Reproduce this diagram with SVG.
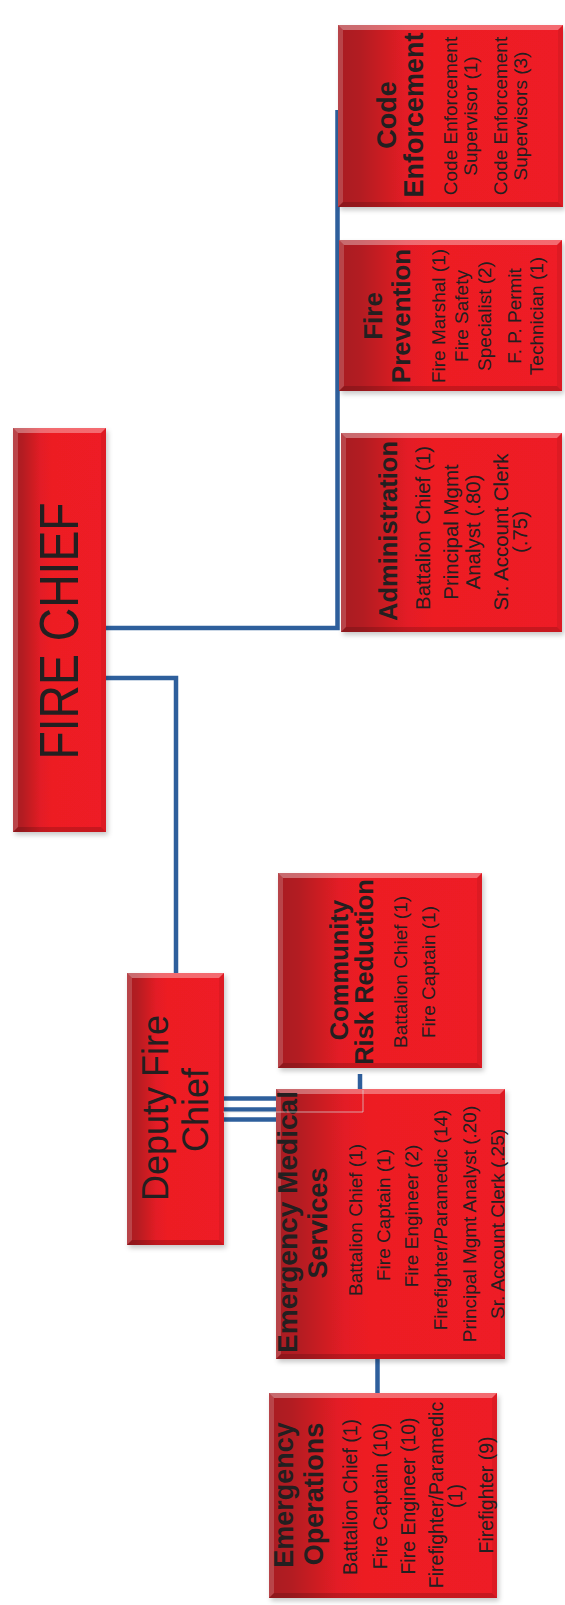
<svg xmlns="http://www.w3.org/2000/svg" width="565" height="1605" viewBox="0 0 565 1605">
  <defs>
    <linearGradient id="redFill" x1="0" y1="0" x2="1" y2="0">
      <stop offset="0" stop-color="#A81C21"/>
      <stop offset="0.1" stop-color="#B31C22"/>
      <stop offset="0.3" stop-color="#E31D25"/>
      <stop offset="0.42" stop-color="#ED1C24"/>
      <stop offset="1" stop-color="#EE1D25"/>
    </linearGradient>
    <filter id="boxShadow" x="-10%" y="-10%" width="125%" height="125%">
      <feDropShadow dx="2" dy="3" stdDeviation="2.5" flood-color="#000" flood-opacity="0.22"/>
    </filter>
    <style>
      .box { fill: url(#redFill); filter: url(#boxShadow); }
      .bv-top { fill: #fff; fill-opacity: 0.35; }
      .bv-left { fill: #fff; fill-opacity: 0.18; }
      .bv-bottom { fill: #000; fill-opacity: 0.16; }
      .bv-right { fill: #000; fill-opacity: 0.07; }
      .link { fill: none; stroke: #2E5F9C; stroke-width: 4.5; }
      .ghost { fill: none; stroke: #D8D8D8; stroke-width: 1; stroke-opacity: 0.7; }
      text { font-family: "Liberation Sans", Arial, sans-serif; fill: #231F20; text-anchor: middle; }
      .fc { font-size: 56px; }
      .dep { font-size: 36px; }
      .ttl { font-weight: bold; font-size: 26px; }
      .body { font-size: 19px; }
    </style>
  </defs>

  <g id="connectors">
    <path class="link" d="M106,628 H337.5 V110"/>
    <path class="link" d="M106,678 H176 V973"/>
    <path class="link" d="M224,1098.5 H276"/>
    <path class="link" d="M224,1109.5 H276"/>
    <path class="link" d="M224,1119.5 H276"/>
    <path class="link" d="M360,1074 V1089"/>
    <path class="link" d="M377.5,1359 V1393"/>
  </g>

  <g id="fire-chief">
    <rect class="box" x="13" y="428" width="93" height="404"/>
    <path class="bv-top" d="M13,428 h93 l-5,5 h-83 z"/>
    <path class="bv-left" d="M13,428 l5,5 v394 l-5,5 z"/>
    <path class="bv-bottom" d="M13,832 l5,-5 h83 l5,5 z"/>
    <path class="bv-right" d="M106,428 v404 l-5,-5 v-394 z"/>
    <text class="fc" transform="translate(78,631) rotate(-90)" textLength="257" lengthAdjust="spacingAndGlyphs">FIRE CHIEF</text>
  </g>

  <g id="code-enforcement">
    <rect class="box" x="338" y="25" width="225" height="182"/>
    <path class="bv-top" d="M338,25 h225 l-5,5 h-215 z"/>
    <path class="bv-left" d="M338,25 l5,5 v172 l-5,5 z"/>
    <path class="bv-bottom" d="M338,207 l5,-5 h215 l5,5 z"/>
    <path class="bv-right" d="M563,25 v182 l-5,-5 v-172 z"/>
    <text class="ttl" style="font-size:27px" transform="translate(396,115) rotate(-90)">Code</text>
    <text class="ttl" style="font-size:27px" transform="translate(423,115) rotate(-90)">Enforcement</text>
    <text class="body" transform="translate(457,116) rotate(-90)">Code Enforcement</text>
    <text class="body" transform="translate(477,116) rotate(-90)">Supervisor (1)</text>
    <text class="body" transform="translate(507,116) rotate(-90)">Code Enforcement</text>
    <text class="body" transform="translate(527,116) rotate(-90)">Supervisors (3)</text>
  </g>

  <g id="fire-prevention">
    <rect class="box" x="339" y="240" width="223" height="151"/>
    <path class="bv-top" d="M339,240 h223 l-5,5 h-213 z"/>
    <path class="bv-left" d="M339,240 l5,5 v141 l-5,5 z"/>
    <path class="bv-bottom" d="M339,391 l5,-5 h213 l5,5 z"/>
    <path class="bv-right" d="M562,240 v151 l-5,-5 v-141 z"/>
    <text class="ttl" transform="translate(382,316) rotate(-90)">Fire</text>
    <text class="ttl" transform="translate(410,316) rotate(-90)">Prevention</text>
    <text class="body" transform="translate(445,316) rotate(-90)">Fire Marshal (1)</text>
    <text class="body" transform="translate(468,316) rotate(-90)">Fire Safety</text>
    <text class="body" transform="translate(491,316) rotate(-90)">Specialist (2)</text>
    <text class="body" transform="translate(521,316) rotate(-90)">F. P. Permit</text>
    <text class="body" transform="translate(543,316) rotate(-90)">Technician (1)</text>
  </g>

  <g id="administration">
    <rect class="box" x="341" y="433" width="221" height="199"/>
    <path class="bv-top" d="M341,433 h221 l-5,5 h-211 z"/>
    <path class="bv-left" d="M341,433 l5,5 v189 l-5,5 z"/>
    <path class="bv-bottom" d="M341,632 l5,-5 h211 l5,5 z"/>
    <path class="bv-right" d="M562,433 v199 l-5,-5 v-189 z"/>
    <text class="ttl" style="font-size:25.5px" transform="translate(397,531) rotate(-90)">Administration</text>
    <text class="body" style="font-size:20.5px" transform="translate(430,528) rotate(-90)">Battalion Chief (1)</text>
    <text class="body" style="font-size:20.5px" transform="translate(458,532) rotate(-90)">Principal Mgmt</text>
    <text class="body" style="font-size:20.5px" transform="translate(480,532) rotate(-90)">Analyst (.80)</text>
    <text class="body" style="font-size:20.5px" transform="translate(508,532) rotate(-90)">Sr. Account Clerk</text>
    <text class="body" style="font-size:20.5px" transform="translate(527,532) rotate(-90)">(.75)</text>
  </g>

  <g id="deputy-fire-chief">
    <rect class="box" x="127" y="973" width="97" height="272"/>
    <path class="bv-top" d="M127,973 h97 l-5,5 h-87 z"/>
    <path class="bv-left" d="M127,973 l5,5 v262 l-5,5 z"/>
    <path class="bv-bottom" d="M127,1245 l5,-5 h87 l5,5 z"/>
    <path class="bv-right" d="M224,973 v272 l-5,-5 v-262 z"/>
    <text class="dep" transform="translate(168,1108) rotate(-90)">Deputy Fire</text>
    <text class="dep" transform="translate(208,1110) rotate(-90)">Chief</text>
  </g>

  <g id="community-risk-reduction">
    <rect class="box" x="278" y="873" width="204" height="195"/>
    <path class="bv-top" d="M278,873 h204 l-5,5 h-194 z"/>
    <path class="bv-left" d="M278,873 l5,5 v185 l-5,5 z"/>
    <path class="bv-bottom" d="M278,1068 l5,-5 h194 l5,5 z"/>
    <path class="bv-right" d="M482,873 v195 l-5,-5 v-185 z"/>
    <text class="ttl" style="font-size:25.5px" transform="translate(348,970) rotate(-90)">Community</text>
    <text class="ttl" style="font-size:25.5px" transform="translate(373,972) rotate(-90)">Risk Reduction</text>
    <text class="body" transform="translate(407,972) rotate(-90)">Battalion Chief (1)</text>
    <text class="body" transform="translate(435,972) rotate(-90)">Fire Captain (1)</text>
  </g>

  <g id="emergency-medical-services">
    <rect class="box" x="276" y="1089" width="229" height="270"/>
    <path class="bv-top" d="M276,1089 h229 l-5,5 h-219 z"/>
    <path class="bv-left" d="M276,1089 l5,5 v260 l-5,5 z"/>
    <path class="bv-bottom" d="M276,1359 l5,-5 h219 l5,5 z"/>
    <path class="bv-right" d="M505,1089 v270 l-5,-5 v-260 z"/>
    <text class="ttl" style="font-size:27px" transform="translate(297,1222) rotate(-90)" textLength="262" lengthAdjust="spacingAndGlyphs">Emergency Medical</text>
    <text class="ttl" style="font-size:27px" transform="translate(327,1223) rotate(-90)">Services</text>
    <text class="body" transform="translate(362,1220) rotate(-90)">Battalion Chief (1)</text>
    <text class="body" transform="translate(390,1215) rotate(-90)">Fire Captain (1)</text>
    <text class="body" transform="translate(418,1216) rotate(-90)">Fire Engineer (2)</text>
    <text class="body" transform="translate(447,1220) rotate(-90)">Firefighter/Paramedic (14)</text>
    <text class="body" transform="translate(476,1224) rotate(-90)">Principal Mgmt Analyst (.20)</text>
    <text class="body" transform="translate(504,1224) rotate(-90)">Sr. Account Clerk (.25)</text>
  </g>

  <g id="emergency-operations">
    <rect class="box" x="269" y="1393" width="228" height="205"/>
    <path class="bv-top" d="M269,1393 h228 l-5,5 h-218 z"/>
    <path class="bv-left" d="M269,1393 l5,5 v195 l-5,5 z"/>
    <path class="bv-bottom" d="M269,1598 l5,-5 h218 l5,5 z"/>
    <path class="bv-right" d="M497,1393 v205 l-5,-5 v-195 z"/>
    <text class="ttl" style="font-size:27px" transform="translate(293,1495) rotate(-90)">Emergency</text>
    <text class="ttl" style="font-size:27px" transform="translate(323,1494) rotate(-90)">Operations</text>
    <text class="body" style="font-size:19.5px" transform="translate(357,1497) rotate(-90)">Battalion Chief (1)</text>
    <text class="body" style="font-size:19.5px" transform="translate(387,1496) rotate(-90)">Fire Captain (10)</text>
    <text class="body" style="font-size:19.5px" transform="translate(415,1496) rotate(-90)">Fire Engineer (10)</text>
    <text class="body" style="font-size:19.5px" transform="translate(443,1495) rotate(-90)">Firefighter/Paramedic</text>
    <text class="body" style="font-size:19.5px" transform="translate(462,1496) rotate(-90)">(1)</text>
    <text class="body" style="font-size:19.5px" transform="translate(493,1495) rotate(-90)">Firefighter (9)</text>
  </g>

  <g id="guide-lines">
    <path class="ghost" d="M223,1112 H363 V1090"/>
  </g>
</svg>
